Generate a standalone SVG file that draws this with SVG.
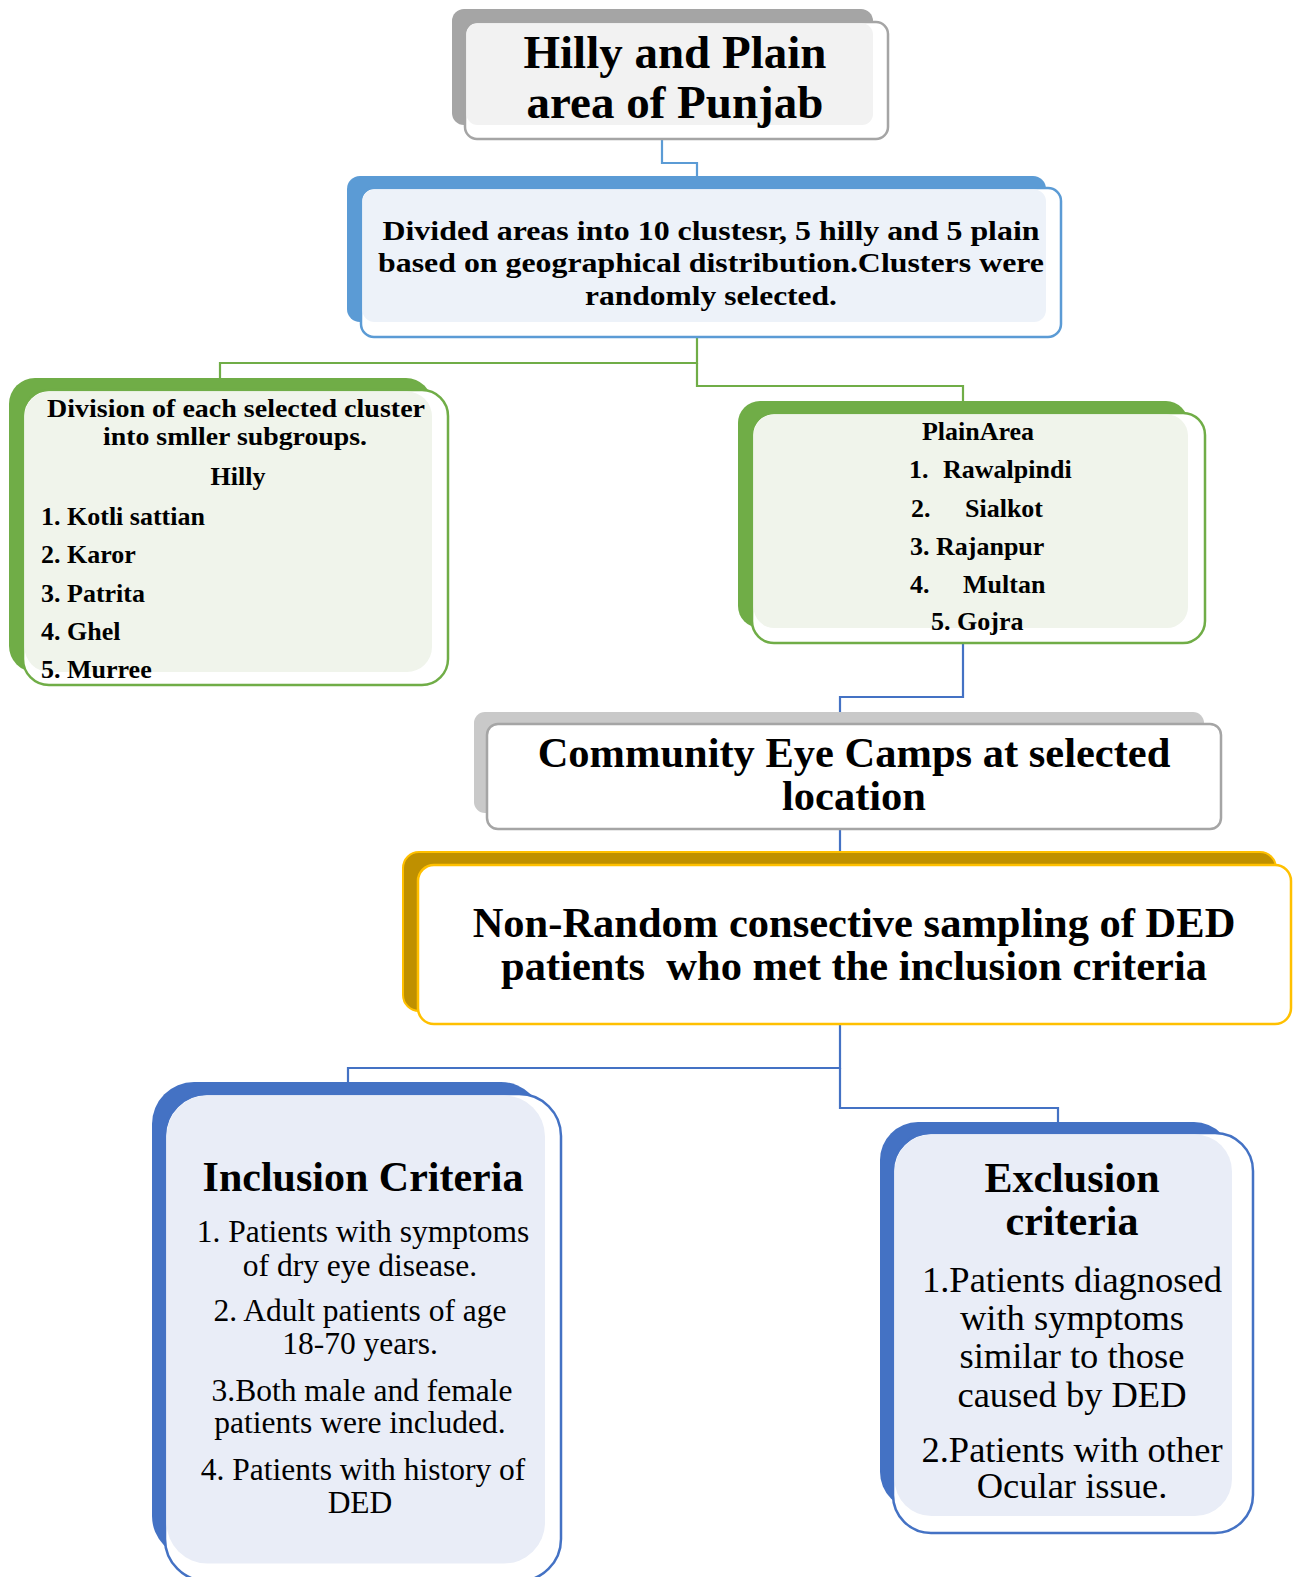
<svg xmlns="http://www.w3.org/2000/svg" width="1300" height="1577" viewBox="0 0 1300 1577">
  <style>
    .t { font-family: "Liberation Serif", "Times New Roman", serif; fill: #000; }
    .b { font-weight: bold; }
    .c { text-anchor: middle; }
    .conn { fill: none; stroke-width: 2.2; }
    .front { fill: #fff; stroke-width: 2.5; }
  </style>
  <rect width="1300" height="1577" fill="#fff"/>

  <!-- connectors -->
  <g id="connectors">
    <path class="conn" stroke="#5b9bd5" d="M662 140 V163 H697 V176"/>
    <path class="conn" stroke="#70ad47" d="M697 337 V363 H220 V378"/>
    <path class="conn" stroke="#70ad47" d="M697 363 V386 H963 V401"/>
    <path class="conn" stroke="#4472c4" d="M963 643 V697 H840 V713"/>
    <path class="conn" stroke="#4472c4" d="M840 829 V852"/>
    <path class="conn" stroke="#4472c4" d="M840 1024 V1068 H348 V1083"/>
    <path class="conn" stroke="#4472c4" d="M840 1068 V1108 H1058 V1122"/>
  </g>

  <!-- Hilly and Plain area of Punjab -->
  <g id="node-punjab">
    <rect x="452" y="9" width="421" height="116" rx="12" fill="#a5a5a5"/>
    <rect class="front" x="465" y="22" width="423" height="117" rx="12" stroke="#a5a5a5"/>
    <rect x="466.5" y="23.5" width="406.5" height="101.5" rx="11" fill="#f2f2f2"/>
    <text class="t b c" x="675" y="68" font-size="47">Hilly and Plain</text>
    <text class="t b c" x="675" y="118" font-size="47">area of Punjab</text>
  </g>

  <!-- Cluster division -->
  <g id="node-clusters">
    <rect x="347" y="176" width="699" height="146" rx="13" fill="#5b9bd5"/>
    <rect class="front" x="361" y="188" width="700" height="149" rx="13" stroke="#5b9bd5"/>
    <rect x="362.5" y="189.5" width="683.5" height="132.5" rx="12" fill="#edf2f9"/>
    <text class="t b c" x="711" y="240" font-size="28" textLength="657" lengthAdjust="spacingAndGlyphs">Divided areas into 10 clustesr, 5 hilly and 5 plain</text>
    <text class="t b c" x="711" y="272" font-size="28" textLength="666" lengthAdjust="spacingAndGlyphs">based on geographical distribution.Clusters were</text>
    <text class="t b c" x="711" y="305" font-size="28" textLength="252" lengthAdjust="spacingAndGlyphs">randomly selected.</text>
  </g>

  <!-- Hilly subgroups -->
  <g id="node-hilly">
    <rect x="9" y="378" width="423" height="294" rx="26" fill="#70ad47"/>
    <rect class="front" x="23" y="390" width="425" height="295" rx="26" stroke="#70ad47"/>
    <rect x="24.5" y="391.5" width="407.5" height="280.5" rx="25" fill="#f0f4eb"/>
    <text class="t b c" x="236" y="417" font-size="26" textLength="378" lengthAdjust="spacingAndGlyphs">Division of each selected cluster</text>
    <text class="t b c" x="235" y="445" font-size="26" textLength="264" lengthAdjust="spacingAndGlyphs">into smller subgroups.</text>
    <text class="t b c" x="238" y="485" font-size="26">Hilly</text>
    <text class="t b" x="41" y="525" font-size="26">1. Kotli sattian</text>
    <text class="t b" x="41" y="563" font-size="26">2. Karor</text>
    <text class="t b" x="41" y="602" font-size="26">3. Patrita</text>
    <text class="t b" x="41" y="640" font-size="26">4. Ghel</text>
    <text class="t b" x="41" y="678" font-size="26">5. Murree</text>
  </g>

  <!-- Plain area -->
  <g id="node-plain">
    <rect x="738" y="401" width="450" height="227" rx="22" fill="#70ad47"/>
    <rect class="front" x="752" y="413" width="453" height="230" rx="22" stroke="#70ad47"/>
    <rect x="753.5" y="414.5" width="434.5" height="213.5" rx="21" fill="#f0f4eb"/>
    <text class="t b c" x="978" y="440" font-size="26">PlainArea</text>
    <text class="t b" x="909" y="478" font-size="26">1.</text>
    <text class="t b" x="943" y="478" font-size="26">Rawalpindi</text>
    <text class="t b" x="911" y="517" font-size="26">2.</text>
    <text class="t b" x="965" y="517" font-size="26">Sialkot</text>
    <text class="t b" x="910" y="555" font-size="26">3. Rajanpur</text>
    <text class="t b" x="910" y="593" font-size="26">4.</text>
    <text class="t b" x="963" y="593" font-size="26">Multan</text>
    <text class="t b" x="931" y="630" font-size="26">5. Gojra</text>
  </g>

  <!-- Community eye camps -->
  <g id="node-camps">
    <rect x="474" y="712" width="730" height="101" rx="11" fill="#c9c9c9"/>
    <rect class="front" x="487" y="724" width="734" height="105" rx="11" stroke="#a5a5a5"/>
    <text class="t b c" x="854" y="767" font-size="42.5">Community Eye Camps at selected</text>
    <text class="t b c" x="854" y="810" font-size="42.5">location</text>
  </g>

  <!-- Sampling -->
  <g id="node-sampling">
    <rect x="403" y="852" width="873" height="159" rx="16" fill="#bf9000" stroke="#ffc000" stroke-width="2"/>
    <rect class="front" x="418" y="865" width="873" height="159" rx="16" stroke="#ffc000"/>
    <text class="t b c" x="854" y="937" font-size="42.5">Non-Random consective sampling of DED</text>
    <text class="t b c" x="854" y="980" font-size="42.5" xml:space="preserve">patients  who met the inclusion criteria</text>
  </g>

  <!-- Inclusion criteria -->
  <g id="node-inclusion">
    <rect x="152" y="1082" width="391" height="476" rx="42" fill="#4472c4"/>
    <rect class="front" x="165" y="1094" width="396" height="487" rx="42" stroke="#4472c4"/>
    <rect x="166.5" y="1095.5" width="378.5" height="468" rx="41" fill="#e9edf7"/>
    <text class="t b c" x="363" y="1191" font-size="42">Inclusion Criteria</text>
    <text class="t c" x="363" y="1242" font-size="31.5">1. Patients with symptoms</text>
    <text class="t c" x="360" y="1276" font-size="31.5">of dry eye disease.</text>
    <text class="t c" x="360" y="1321" font-size="31.5">2. Adult patients of age</text>
    <text class="t c" x="360" y="1354" font-size="31.5">18-70 years.</text>
    <text class="t c" x="362" y="1401" font-size="31.5">3.Both male and female</text>
    <text class="t c" x="360" y="1433" font-size="31.5">patients were included.</text>
    <text class="t c" x="363" y="1480" font-size="31.5">4. Patients with history of</text>
    <text class="t c" x="360" y="1513" font-size="31.5">DED</text>
  </g>

  <!-- Exclusion criteria -->
  <g id="node-exclusion">
    <rect x="880" y="1122" width="352" height="388" rx="38" fill="#4472c4"/>
    <rect class="front" x="893" y="1133" width="360" height="400" rx="38" stroke="#4472c4"/>
    <rect x="894.5" y="1134.5" width="337.5" height="381.5" rx="37" fill="#e9edf7"/>
    <text class="t b c" x="1072" y="1192" font-size="42">Exclusion</text>
    <text class="t b c" x="1072" y="1235" font-size="42">criteria</text>
    <text class="t c" x="1072" y="1292" font-size="36.5">1.Patients diagnosed</text>
    <text class="t c" x="1072" y="1330" font-size="36.5">with symptoms</text>
    <text class="t c" x="1072" y="1368" font-size="36.5">similar to those</text>
    <text class="t c" x="1072" y="1407" font-size="36.5">caused by DED</text>
    <text class="t c" x="1072" y="1462" font-size="36.5">2.Patients with other</text>
    <text class="t c" x="1072" y="1498" font-size="36.5">Ocular issue.</text>
  </g>
</svg>
